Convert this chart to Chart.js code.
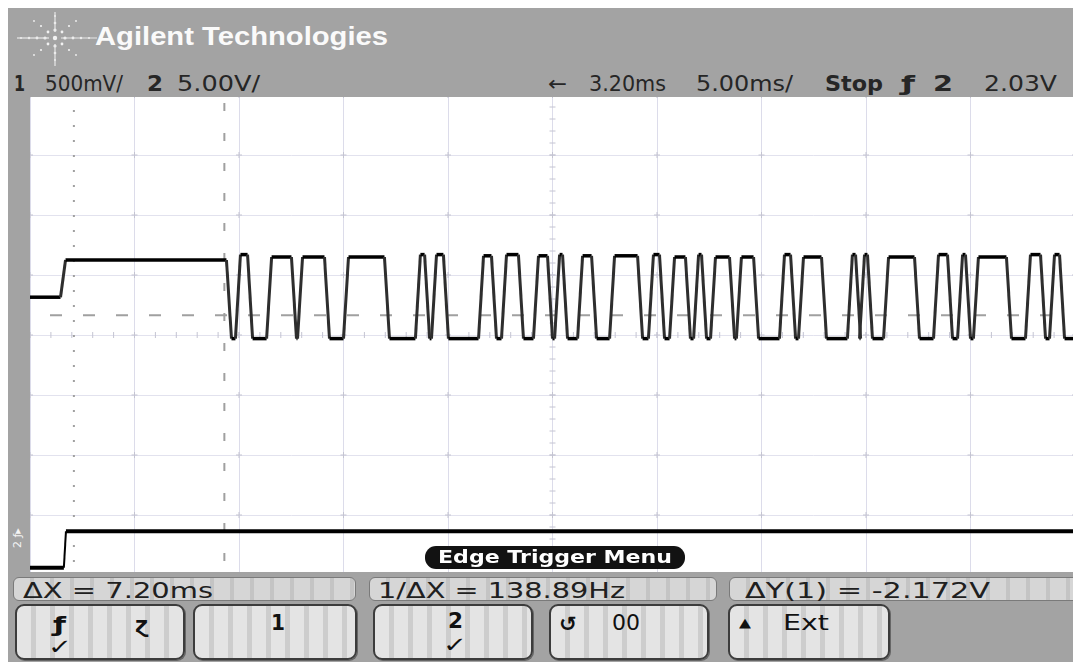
<!DOCTYPE html>
<html><head><meta charset="utf-8">
<script src="https://cdn.jsdelivr.net/npm/chart.js@4.4.1/dist/chart.umd.min.js"></script>
<style>
html,body{margin:0;padding:0;}
body{width:1073px;height:662px;overflow:hidden;position:relative;background:#fff;font-family:"DejaVu Sans",sans-serif;}
#frame{position:absolute;left:8px;top:8px;width:1065px;height:654px;background:#a3a3a3;}
#plot{position:absolute;left:30px;top:95px;width:1045px;height:480px;background:#fff;}
#header{position:absolute;left:8px;top:8px;width:1065px;height:89px;background:#a3a3a3;}
#panel{position:absolute;left:8px;top:572px;width:1065px;height:90px;background:#a3a3a3;}
.t{position:absolute;white-space:nowrap;line-height:1;transform-origin:0 0;}
.stat{font-size:21px;color:#262626;top:74px;}
.b{font-weight:bold;}
#title{left:95px;top:22px;font:bold 25px "Liberation Sans",Arial,sans-serif;color:#fafafa;}
.soft{position:absolute;top:577px;height:24px;border:1px solid #7a7a7a;border-radius:6px;
 background:repeating-linear-gradient(90deg,#d6d6d6 0 16px,#c4c4c4 16px 20px);box-sizing:border-box;}
.softt{font-size:22px;color:#202020;top:580px;}
.btn{position:absolute;top:604px;height:56px;border:2px solid #3c3c3c;border-radius:9px;box-sizing:border-box;
 background:repeating-linear-gradient(90deg,#e4e4e4 0 14px,#cdcdcd 14px 19px);box-shadow:1px 1px 0 #666;}
.bt{font-size:21px;color:#111;}
#pill{position:absolute;left:425px;top:546px;width:260px;height:23px;background:#121212;border-radius:11px;}
#pillt{left:438px;top:548px;font-size:18px;font-weight:bold;color:#fff;}
#mark{left:12px;top:548px;font-size:11px;color:#f4f4f4;transform:rotate(-90deg);}
</style></head>
<body>
<div id="frame"></div>
<div id="plot"><canvas id="c" width="1045" height="480"></canvas></div>
<div id="header">
<svg width="90" height="60" style="position:absolute;left:5px;top:2px" viewBox="0 0 90 60">
 <g fill="#f2f2f2">
  <circle cx="42" cy="28" r="2.2"/>
  <circle cx="32" cy="28" r="1.6"/><circle cx="24" cy="28" r="1.4"/><circle cx="16" cy="28" r="1.2"/><circle cx="8" cy="28" r="1"/>
  <circle cx="52" cy="28" r="1.6"/><circle cx="60" cy="28" r="1.4"/><circle cx="68" cy="28" r="1.2"/><circle cx="76" cy="28" r="1"/>
  <circle cx="42" cy="20" r="1.6"/><circle cx="42" cy="13" r="1.3"/><circle cx="42" cy="6" r="1"/>
  <circle cx="42" cy="36" r="1.6"/><circle cx="42" cy="43" r="1.3"/><circle cx="42" cy="50" r="1"/>
  <circle cx="35" cy="22" r="1.4"/><circle cx="28" cy="16" r="1.1"/><circle cx="21" cy="11" r="0.9"/>
  <circle cx="49" cy="22" r="1.4"/><circle cx="56" cy="16" r="1.1"/><circle cx="63" cy="11" r="0.9"/>
  <circle cx="35" cy="34" r="1.4"/><circle cx="28" cy="40" r="1.1"/><circle cx="21" cy="45" r="0.9"/>
  <circle cx="49" cy="34" r="1.4"/><circle cx="56" cy="40" r="1.1"/><circle cx="63" cy="45" r="0.9"/>
 </g>
 <g stroke="#e8e8e8" stroke-width="1.2">
  <line x1="4" y1="28" x2="36" y2="28"/><line x1="48" y1="28" x2="84" y2="28"/>
  <line x1="42" y1="2" x2="42" y2="22"/><line x1="42" y1="34" x2="42" y2="56"/>
 </g>
</svg>
</div>
<div class="t" id="title" data-w="293">Agilent Technologies</div>

<div class="t stat b" style="left:14px" data-w="11">1</div>
<div class="t stat" style="left:45px" data-w="78">500mV/</div>
<div class="t stat b" style="left:147px" data-w="16">2</div>
<div class="t stat" style="left:177px" data-w="83">5.00V/</div>
<div class="t stat" style="left:548px" data-w="19">←</div>
<div class="t stat" style="left:589px" data-w="77">3.20ms</div>
<div class="t stat" style="left:696px" data-w="97">5.00ms/</div>
<div class="t stat b" style="left:825px" data-w="58">Stop</div>
<div class="t stat b" style="left:901px" data-w="14">ƒ</div>
<div class="t stat b" style="left:933px" data-w="20">2</div>
<div class="t stat" style="left:984px" data-w="73">2.03V</div>

<div class="t" id="mark">2 ƒ▸</div>

<div id="pill"></div>
<div class="t" id="pillt" data-w="234">Edge Trigger Menu</div>

<div id="panel"></div>
<div class="soft" style="left:13px;width:343px"></div>
<div class="soft" style="left:369px;width:348px"></div>
<div class="soft" style="left:729px;width:350px"></div>
<div class="t softt" style="left:23px" data-w="190">ΔX = 7.20ms</div>
<div class="t softt" style="left:378px" data-w="247">1/ΔX = 138.89Hz</div>
<div class="t softt" style="left:745px" data-w="245">ΔY(1) = -2.172V</div>

<div class="btn" style="left:15px;width:170px"></div>
<div class="btn" style="left:193px;width:164px"></div>
<div class="btn" style="left:373px;width:160px"></div>
<div class="btn" style="left:549px;width:160px"></div>
<div class="btn" style="left:728px;width:162px"></div>
<div class="t bt b" style="left:53px;top:615px" data-w="13">ƒ</div>
<div class="t bt b" style="left:135px;top:615px" data-w="13">ɀ</div>
<div class="t bt" style="left:48px;top:637px" data-w="24">✓</div>
<div class="t bt b" style="left:271px;top:613px" data-w="14">1</div>
<div class="t bt b" style="left:448px;top:611px" data-w="15">2</div>
<div class="t bt" style="left:443px;top:635px" data-w="24">✓</div>
<div class="t bt b" style="left:559px;top:614px" data-w="18">↺</div>
<div class="t bt" style="left:612px;top:613px" data-w="28">00</div>
<div class="t bt" style="left:739px;top:616px;font-size:13px" data-w="12">▲</div>
<div class="t bt" style="left:783px;top:613px" data-w="46">Ext</div>

<script>
// ---- data (time in ms, level in screen divisions) ----
const timeTicks = [-21.8,-16.8,-11.8,-6.8,-1.8,3.2,8.2,13.2,18.2,23.2,28.2];
const levelTicks = [-4,-3,-2,-1,0,1,2,3,4];
const ch1Time = [-21.80,-20.22,-12.28,-11.85,-11.27,-10.36,-9.17,-8.88,-7.59,-6.68,-4.72,-3.24,-2.80,-2.47,-1.90,
  -0.22,0.40,0.88,1.69,2.41,3.08,3.42,3.80,4.52,5.19,6.05,7.39,7.91,8.44,8.92,9.68,10.07,10.45,10.88,11.79,12.12,
  12.94,14.18,14.71,15.09,16.19,17.43,17.82,18.01,18.39,19.16,20.64,21.55,22.22,22.70,23.08,23.46,25.04,25.95,
  26.67,27.10,27.58];
const ch1Level = [0.63,1.25,-0.06,1.34,-0.06,1.30,-0.06,1.30,-0.06,1.30,-0.06,1.34,-0.06,1.34,-0.06,
  1.32,-0.06,1.34,-0.06,1.32,-0.06,1.34,-0.06,1.32,-0.06,1.32,-0.06,1.34,-0.06,1.30,-0.06,1.34,-0.06,1.30,-0.06,1.30,
  -0.06,1.34,-0.06,1.30,-0.06,1.34,-0.06,1.34,-0.06,1.30,-0.06,1.34,-0.06,1.34,-0.06,1.30,-0.06,1.34,
  -0.06,1.34,-0.06];
const ch2Time = [-21.80,-20.13];
const ch2Level = [-3.88,-3.27];
const cursorX = [-19.70,-12.50];
const cursorY = [0.33];

// fit text widths
document.querySelectorAll('[data-w]').forEach(el=>{
  const w=el.getBoundingClientRect().width, tw=+el.dataset.w;
  if(w>0) el.style.transform='scaleX('+(tw/w)+')';
});

function trace(times, levels, end, rise){
  const pts=[{x:times[0],y:levels[0]}];
  for(let i=1;i<times.length;i++){
    pts.push({x:times[i]-rise,y:levels[i-1]});
    pts.push({x:times[i]+rise,y:levels[i]});
  }
  pts.push({x:end,y:levels[levels.length-1]});
  return pts;
}
const tEnd = timeTicks[timeTicks.length-1];

const overlay = {
  id:'overlay',
  beforeDatasetsDraw(chart){
    const {ctx, chartArea:a, scales:{x,y}} = chart;
    const L=(x1,y1,x2,y2)=>{ctx.beginPath();ctx.moveTo(x1,y1);ctx.lineTo(x2,y2);ctx.stroke();};
    ctx.save();
    ctx.strokeStyle='#c4c4d2'; ctx.lineWidth=1;
    const cy=y.getPixelForValue(0), cx=x.getPixelForValue(timeTicks[5]);
    for(let k=0;k<=50;k++){const px=x.getPixelForValue(timeTicks[0]+k); L(px,cy-3,px,cy+3);}
    for(let k=0;k<=40;k++){const py=y.getPixelForValue(levelTicks[0]+k*0.2); L(cx-3,py,cx+3,py);}
    timeTicks.forEach(t=>levelTicks.forEach(v=>{const px=x.getPixelForValue(t),py=y.getPixelForValue(v);L(px-3,py,px+3,py);L(px,py-3,px,py+3);}));
    ctx.strokeStyle='#a0a0a0'; ctx.lineWidth=2;
    ctx.setLineDash([2,13]); let px=x.getPixelForValue(cursorX[0]); L(px,a.top,px,a.bottom);
    ctx.setLineDash([8,22]); px=x.getPixelForValue(cursorX[1]); L(px,a.top+8,px,a.bottom);
    ctx.setLineDash([12,21]); const py=y.getPixelForValue(cursorY[0]); L(a.left+20,py,a.right,py);
    ctx.restore();
  }
};

new Chart(document.getElementById('c'),{
  type:'line',
  data:{datasets:[
    {data:trace(ch1Time,ch1Level,tEnd,0.12),borderColor:'#000',borderWidth:3.5,pointRadius:0,tension:0,
     segment:{borderColor:c=>c.p0.parsed.y!==c.p1.parsed.y?'#2e2e2e':'#000',borderWidth:c=>c.p0.parsed.y!==c.p1.parsed.y?3:3.5}},
    {data:trace(ch2Time,ch2Level,tEnd,0.05),borderColor:'#000',borderWidth:4,pointRadius:0,tension:0,
     segment:{borderWidth:c=>c.p0.parsed.y!==c.p1.parsed.y?2:4}}
  ]},
  options:{
    responsive:false,animation:false,events:[],
    layout:{padding:0},
    plugins:{legend:{display:false},tooltip:{enabled:false}},
    scales:{
      x:{type:'linear',min:timeTicks[0],max:tEnd,
         afterBuildTicks:s=>{s.ticks=timeTicks.map(v=>({value:v}));},
         ticks:{display:false},grid:{color:'#dcdcea',lineWidth:1,drawTicks:false},border:{display:false}},
      y:{type:'linear',min:levelTicks[0],max:levelTicks[levelTicks.length-1],
         afterBuildTicks:s=>{s.ticks=levelTicks.map(v=>({value:v}));},
         ticks:{display:false},grid:{color:'#e2e2ee',lineWidth:1,drawTicks:false},border:{display:false}}
    }
  },
  plugins:[overlay]
});
</script>
</body></html>
